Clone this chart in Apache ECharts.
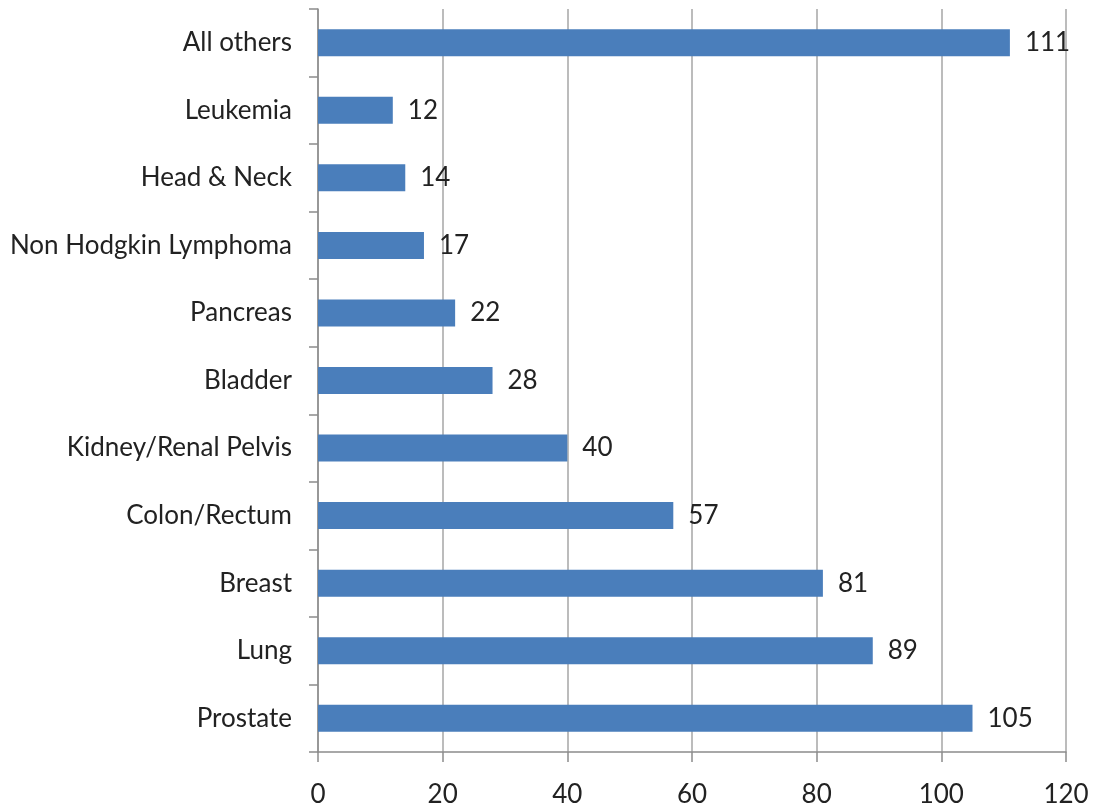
<!DOCTYPE html>
<html><head><meta charset="utf-8">
<script src="https://cdn.jsdelivr.net/npm/echarts@6/dist/echarts.min.js"></script>
<style>html,body{margin:0;padding:0;background:#fff}#c{width:1093px;height:811px}</style>
</head><body><div id="c"></div>
<script>
const categories = ["Prostate","Lung","Breast","Colon/Rectum","Kidney/Renal Pelvis","Bladder","Pancreas","Non Hodgkin Lymphoma","Head & Neck","Leukemia","All others"];
const values = [105,89,81,57,40,28,22,17,14,12,111];
const xTicks = [0,20,40,60,80,100,120];

const font = "Lato, 'Open Sans', sans-serif";
const chart = echarts.init(document.getElementById('c'));
chart.setOption({
  animation:false,
  grid:{left:318,right:27,top:9,bottom:59,containLabel:false},
  xAxis:{type:'value',min:xTicks[0],max:xTicks[xTicks.length-1],interval:20,
    axisLine:{show:true,lineStyle:{color:'#8c8c8c',width:1.5}},
    axisTick:{show:true,length:10,lineStyle:{color:'#8c8c8c',width:1.5}},
    splitLine:{show:true,lineStyle:{color:'#a6a6a6',width:1.5}},
    axisLabel:{color:'#222',fontSize:26,fontFamily:font,margin:30}},
  yAxis:{type:'category',data:categories,
    axisLine:{show:true,lineStyle:{color:'#8c8c8c',width:1.5}},
    axisTick:{show:true,length:9,lineStyle:{color:'#8c8c8c',width:1.5}},
    axisLabel:{color:'#222',fontSize:26,fontFamily:font,margin:26}},
  series:[{type:'bar',data:values,barWidth:27,
    itemStyle:{color:'#4a7ebb'},
    label:{show:true,position:'right',distance:15,color:'#222',fontSize:26,fontFamily:font}}]
});
</script></body></html>
